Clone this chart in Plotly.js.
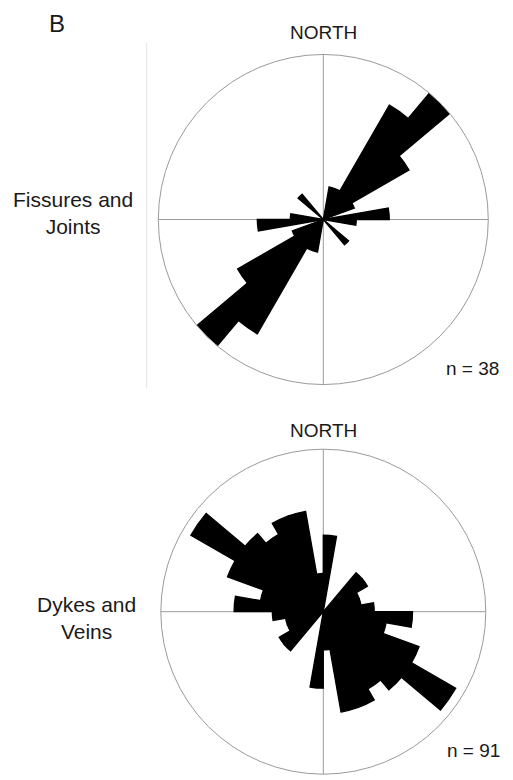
<!DOCTYPE html>
<html>
<head>
<meta charset="utf-8">
<script src="https://cdn.plot.ly/plotly-3.0.1.min.js"></script>
<style>html,body{margin:0;padding:0;background:#fff;}#chart{width:513px;height:780px;}</style>
</head>
<body>
<div id="chart"></div>
<script>
// 10-degree strike bins from 0 to 180 (start of each bin, degrees from north)
const binStarts = [0,10,20,30,40,50,60,70,80,90,100,110,120,130,140,150,160,170];
// Fissures and Joints (n = 38)
const fissureCounts = [0,2,2,8,10,6,2,0,4,2,0,0,0,2,0,0,0,0];
// Dykes and Veins (n = 91)
const dykeCounts = [6,0,0,0,4,4,3,3,4,7,5,8,12,8,7,8,8,3];

const W = 513, H = 780;
const px = x => x / W;
const py = y => 1 - y / H;

// bidirectional rose: each strike bin is drawn at theta and theta+180
function roseTheta() {
  const t = [];
  binStarts.forEach(b => t.push(b + 5));
  binStarts.forEach(b => t.push(b + 185));
  return t;
}
function roseR(counts) { return counts.concat(counts); }

const barStyle = {color: '#000', line: {color: '#000', width: 1.3}};

const traces = [
  {type: 'barpolar', subplot: 'polar', theta: roseTheta(), r: roseR(fissureCounts),
   width: 10, marker: barStyle, hoverinfo: 'skip'},
  {type: 'barpolar', subplot: 'polar2', theta: roseTheta(), r: roseR(dykeCounts),
   width: 10, marker: barStyle, hoverinfo: 'skip'}
];

function polarCfg(domX, domY, rmax) {
  return {
    domain: {x: domX, y: domY},
    bgcolor: '#fff',
    bargap: 0,
    hole: 0,
    radialaxis: {range: [0, rmax], visible: false, showgrid: false, showline: false, showticklabels: false},
    angularaxis: {
      rotation: 90, direction: 'clockwise',
      tickmode: 'array', tickvals: [0, 90, 180, 270],
      showticklabels: false, ticks: '',
      showgrid: true, gridcolor: '#9a9a9a', gridwidth: 1,
      showline: true, linecolor: '#9a9a9a', linewidth: 1
    }
  };
}

const c1 = {x: 323.3, y: 219.5, r: 165};
const c2 = {x: 323.3, y: 611.7, r: 162.5};

const font = 'Liberation Sans, Arial, Helvetica, sans-serif';
const txt = '#1a1a1a';
function ann(text, x, y, size, xanchor) {
  return {text: text, x: px(x), y: py(y), xref: 'paper', yref: 'paper',
          xanchor: xanchor || 'center', yanchor: 'middle', showarrow: false,
          align: 'center', font: {family: font, size: size, color: txt}};
}

const layout = {
  width: W, height: H,
  margin: {l: 0, r: 0, t: 0, b: 0},
  paper_bgcolor: '#fff',
  showlegend: false,
  polar: polarCfg([px(c1.x - c1.r), px(c1.x + c1.r)], [py(c1.y + c1.r), py(c1.y - c1.r)], 10),
  polar2: polarCfg([px(c2.x - c2.r), px(c2.x + c2.r)], [py(c2.y + c2.r), py(c2.y - c2.r)], 12.75),
  annotations: [
    ann('B', 57, 23, 24),
    ann('NORTH', 323.3, 33, 19),
    ann('NORTH', 323.3, 430.3, 19),
    ann('Fissures and<br>Joints', 73.3, 212.8, 21),
    ann('Dykes and<br>Veins', 86, 617.7, 21),
    ann('n = 38', 444, 368, 19, 'left'),
    ann('n = 91', 445, 750, 19, 'left')
  ],
  shapes: [
    {type: 'line', xref: 'paper', yref: 'paper', x0: px(146.7), x1: px(146.7), y0: py(43), y1: py(388),
     line: {color: '#e2e2e2', width: 1}}
  ]
};

Plotly.newPlot('chart', traces, layout, {displayModeBar: false, staticPlot: true});
</script>
</body>
</html>
